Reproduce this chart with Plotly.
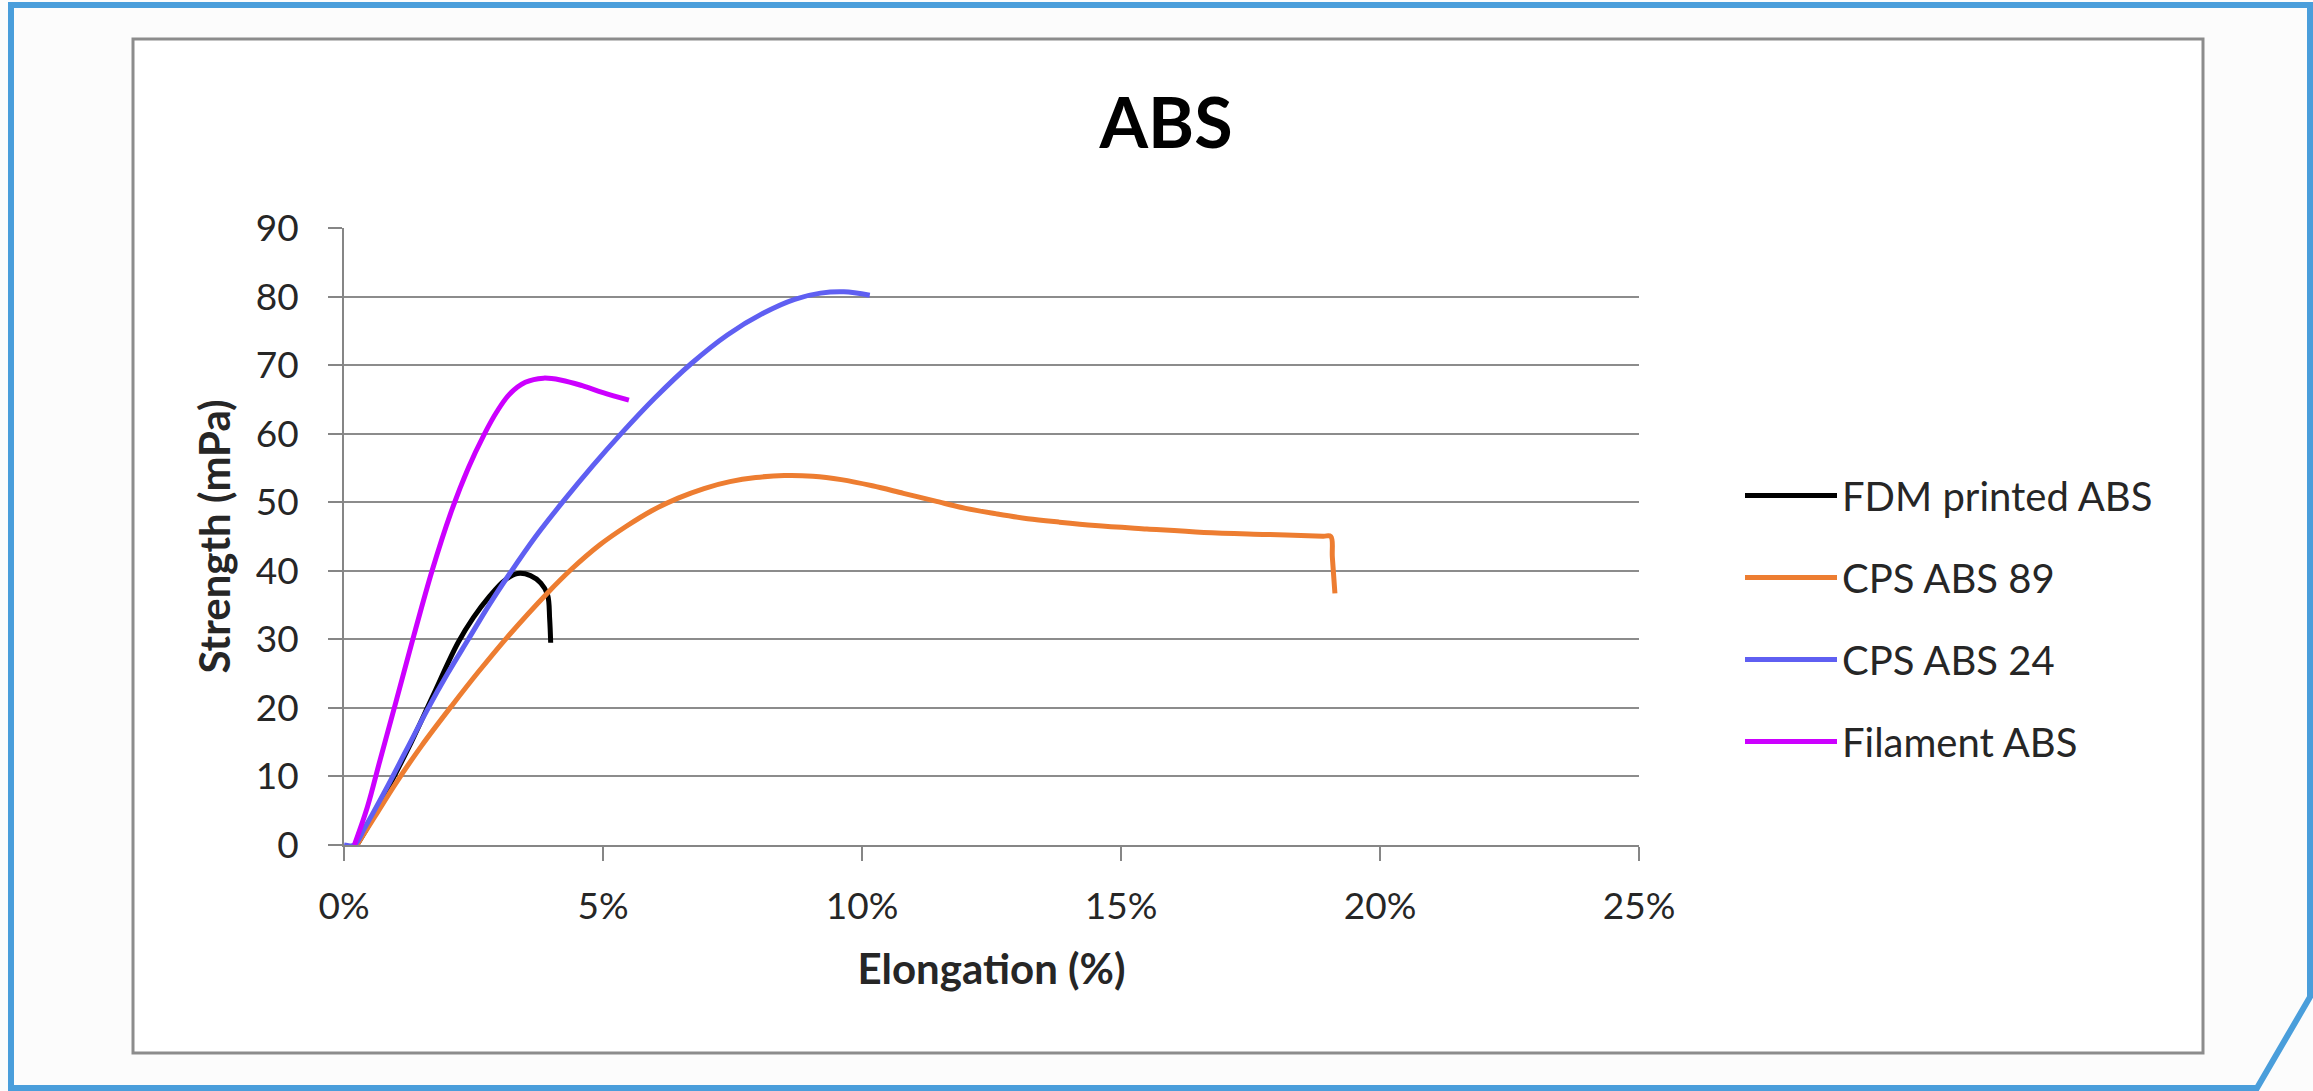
import plotly.graph_objects as go

# ---------------- data (elongation in %, strength in mPa) ----------------
fdm_x = [0.25, 0.5, 0.9, 1.3, 1.7, 2.2, 2.5, 2.8, 3.1, 3.35, 3.6, 3.8, 3.93, 3.97, 3.99]
fdm_y = [0, 3.2, 9.0, 15.0, 21.5, 29.5, 33.2, 36.2, 38.6, 39.6, 39.3, 38.2, 36.5, 33.0, 29.5]

cps89_x = [0.25, 0.6, 1.0, 1.5, 2.1, 2.6, 3.15, 3.92, 4.4, 4.94, 5.45, 5.95, 6.45, 6.95,
           7.45, 7.95, 8.5, 9.05, 9.6, 10.2, 10.8, 11.4, 12.0, 12.6, 13.2, 13.8, 14.5,
           15.5, 16.6, 17.8, 18.9, 19.05, 19.08, 19.13]
cps89_y = [0, 4.2, 9.0, 14.5, 20.5, 25.3, 30.3, 36.7, 40.3, 43.8, 46.5, 48.8, 50.6, 52.0,
           53.0, 53.6, 53.9, 53.8, 53.3, 52.4, 51.3, 50.2, 49.1, 48.3, 47.6, 47.1, 46.6,
           46.1, 45.6, 45.3, 45.05, 45.0, 42.0, 36.7]

cps24_x = [0, 0.2, 0.4, 0.8, 1.2, 1.6, 2.0, 2.4, 2.8, 3.2, 3.7, 4.25, 4.8, 5.35, 6.0,
           6.7, 7.4, 8.1, 8.7, 9.2, 9.65, 10.15]
cps24_y = [0, 0, 2.5, 8.0, 13.8, 19.6, 25.0, 30.0, 35.0, 39.6, 45.0, 50.3, 55.3, 60.0, 65.2,
           70.2, 74.4, 77.6, 79.6, 80.5, 80.7, 80.2]

fil_x = [0.2, 0.45, 0.7, 1.0, 1.35, 1.7, 2.05, 2.4, 2.7, 2.95, 3.2, 3.5, 3.85, 4.2,
         4.6, 5.0, 5.5]
fil_y = [0, 5.5, 12.5, 20.8, 30.6, 40.0, 48.2, 55.0, 59.8, 63.2, 65.8, 67.5, 68.1, 67.8,
         67.0, 66.0, 64.9]

series_names = ["FDM printed ABS", "CPS ABS 89", "CPS ABS 24", "Filament ABS"]
series_colors = ["#000000", "#ED7D31", "#5F5FF2", "#CC00FF"]

x_ticks = [0, 5, 10, 15, 20, 25]
x_tick_labels = ["0%", "5%", "10%", "15%", "20%", "25%"]
y_ticks = [0, 10, 20, 30, 40, 50, 60, 70, 80, 90]

# ---------------- layout geometry (pixels) ----------------
W, H = 2313, 1091
L, R, T, B = 344, 2313 - 1639, 228, 1091 - 845
PW, PH = W - L - R, H - T - B


def px(xp):
    return (xp - L) / PW


def py(yp):
    return (H - B - yp) / PH


FONT = "Lato, 'Open Sans', sans-serif"

fig = go.Figure()
data = [(fdm_x, fdm_y), (cps89_x, cps89_y), (cps24_x, cps24_y), (fil_x, fil_y)]
for (xs, ys), name, col in zip(data, series_names, series_colors):
    fig.add_trace(go.Scatter(
        x=xs, y=ys, name=name, mode="lines",
        line=dict(color=col, width=5, shape="spline", smoothing=1.0),
        legendgroup=name,
    ))

# outer blue frame and inner chart box
pts = [(11, 5), (2310, 5), (2310, 997), (2257, 1088), (11, 1088)]
path = "M " + " L ".join(f"{px(a):.5f},{py(b):.5f}" for a, b in pts) + " Z"
fig.add_shape(type="path", path=path, xref="paper", yref="paper",
              line=dict(color="#4A9EDB", width=6), fillcolor="#FCFCFC", layer="below")
fig.add_shape(type="rect", xref="paper", yref="paper",
              x0=px(133), x1=px(2203), y0=py(1053), y1=py(39),
              line=dict(color="#8C8C8C", width=3), fillcolor="#FFFFFF", layer="below")

axis_common = dict(
    showline=True, linecolor="#868686", linewidth=2,
    gridcolor="#8C8C8C", gridwidth=2,
    ticks="outside", ticklen=14, tickwidth=2, tickcolor="#868686",
    tickfont=dict(family=FONT, size=37, color="#262626"),
    zeroline=False,
)

fig.update_xaxes(
    range=[0, 25], tickvals=x_ticks, ticktext=x_tick_labels,
    showgrid=False,
    title=dict(text="<b>Elongation (%)</b>", font=dict(family=FONT, size=42, color="#262626"),
               standoff=28),
    ticklabelstandoff=14,
    **axis_common,
)
fig.update_yaxes(
    range=[0, 90], tickvals=y_ticks, showgrid=True,
    title=dict(text="<b>Strength (mPa)</b>", font=dict(family=FONT, size=42, color="#262626"),
               standoff=12),
    ticklabelstandoff=22,
    **axis_common,
)

fig.update_layout(
    width=W, height=H,
    margin=dict(l=L, r=R, t=T, b=B, autoexpand=False),
    paper_bgcolor="#FCFCFC", plot_bgcolor="rgba(0,0,0,0)",
    title=dict(text="<b>ABS</b>", x=1166 / W, xanchor="center",
               y=1 - 123 / H, yanchor="middle",
               font=dict(family=FONT, size=70, color="#000000")),
    legend=dict(x=px(1740), xanchor="left", y=py(493 - 30), yanchor="top",
                font=dict(family=FONT, size=40, color="#262626"),
                bgcolor="rgba(0,0,0,0)", tracegroupgap=27, itemwidth=92),
    showlegend=True,
)

fig.write_html("out.html",
               config={"displayModeBar": False},
               post_script="document.body.style.margin='0';document.body.style.overflow='hidden';")
